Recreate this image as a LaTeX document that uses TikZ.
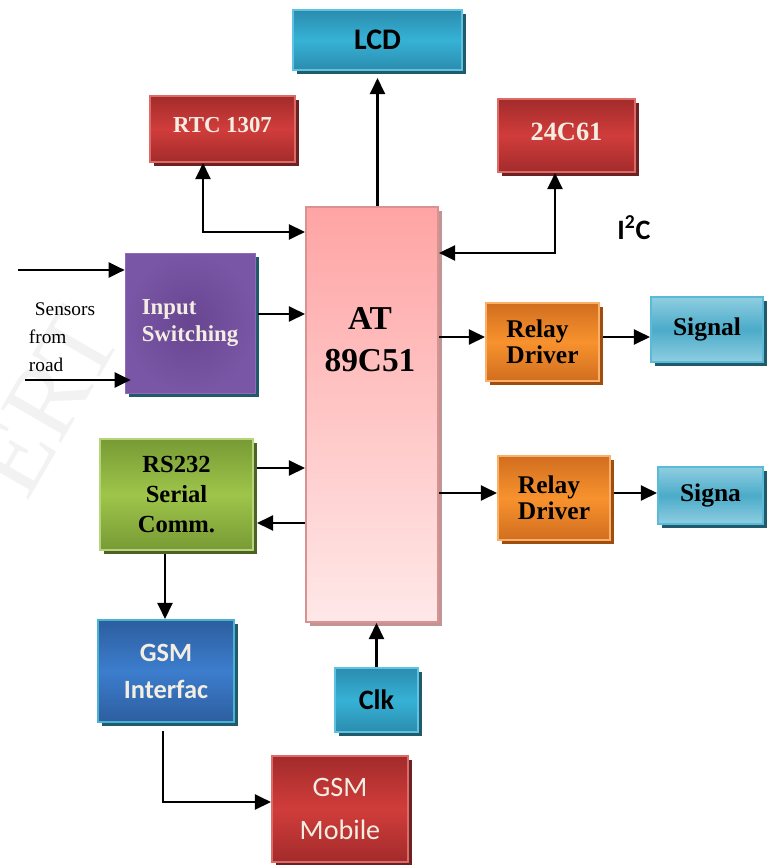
\documentclass[tikz,border=0pt]{standalone}
\usepackage{fontspec}
\setmainfont{Liberation Serif}
\newfontfamily\calibri{Carlito}
\usepackage{xcolor}
\usetikzlibrary{arrows.meta,shadows}
\definecolor{cream}{HTML}{F4EEE2}
\definecolor{cyanmid}{HTML}{36B2D6}
\definecolor{cyanedge}{HTML}{2B8CAE}
\definecolor{cyanborder}{HTML}{5CC4E2}
\definecolor{redmid}{HTML}{D03D3B}
\definecolor{rededge}{HTML}{A32B2B}
\definecolor{redborder}{HTML}{DD6A66}
\definecolor{greenmid}{HTML}{9EC54A}
\definecolor{greenedge}{HTML}{789A35}
\definecolor{greenborder}{HTML}{B5D57A}
\definecolor{bluemid}{HTML}{3C7DCD}
\definecolor{blueedge}{HTML}{2D5E9F}
\definecolor{blueborder}{HTML}{4AB2D4}
\definecolor{orangemid}{HTML}{F8922E}
\definecolor{orangeedge}{HTML}{D16E1F}
\definecolor{orangeborder}{HTML}{FBB06A}
\definecolor{sigmid}{HTML}{4BABC9}
\definecolor{sigedge}{HTML}{8FCEE1}
\definecolor{sigborder}{HTML}{5ABAD8}
\definecolor{purplemid}{HTML}{7A57A6}
\definecolor{purpleinner}{HTML}{674590}
\definecolor{purpleborder}{HTML}{8C6CB6}
\definecolor{pinktop}{HTML}{FFA4A4}
\definecolor{pinkbottom}{HTML}{FFE8E8}
\definecolor{pinkborder}{HTML}{D99292}
\definecolor{cyanshade}{HTML}{215A6A}
\definecolor{redshade}{HTML}{6B2222}
\definecolor{greenshade}{HTML}{4F6226}
\definecolor{orangeshade}{HTML}{A04E10}
\definecolor{pinkshade}{HTML}{C29494}
\tikzset{
  shade box/.style={drop shadow={shadow xshift=0.08cm,shadow yshift=-0.08cm,fill=#1,opacity=1}},
  cyanbox/.style={draw=cyanborder, line width=1.2pt, top color=cyanedge, bottom color=cyanedge, middle color=cyanmid, shade box=cyanshade},
  redbox/.style={draw=redborder, line width=1.2pt, top color=rededge, bottom color=rededge, middle color=redmid, shade box=redshade},
  sigbox/.style={draw=sigborder, line width=1.2pt, top color=sigedge, bottom color=sigedge, middle color=sigmid, shade box=cyanshade},
  orangebox/.style={draw=orangeborder, line width=1.2pt, top color=orangeedge, bottom color=orangeedge, middle color=orangemid, shade box=orangeshade},
  greenbox/.style={draw=greenborder, line width=1.2pt, top color=greenedge, bottom color=greenedge, middle color=greenmid, shade box=greenshade},
  bluebox/.style={draw=blueborder, line width=1.2pt, top color=blueedge, bottom color=blueedge, middle color=bluemid, shade box=cyanshade},
  lbl/.style={font=\bfseries, align=center},
  arr/.style={line width=1.3pt, -{Triangle[length=0.32cm,width=0.3cm]}},
  biarr/.style={line width=1.3pt, {Triangle[length=0.32cm,width=0.3cm]}-{Triangle[length=0.32cm,width=0.3cm]}}
}

\begin{document}
\begin{tikzpicture}[x=0.02cm,y=-0.02cm]
  \useasboundingbox (0,0) rectangle (772,865);
  % watermark
  \node[text=gray!10, rotate=60, font=\fontsize{60}{60}\selectfont] (wmark) at (46,402) {ERT};

  % top blocks
  \node[cyanbox, minimum width=3.38cm, minimum height=1.2cm, font=\calibri\bfseries\fontsize{17}{20}\selectfont] (lcd) at (377.5,40) {LCD};
  \node[redbox, minimum width=2.9cm, minimum height=1.32cm, text=cream, font=\bfseries\fontsize{13}{15}\selectfont] (rtc) at (222.5,129) {\raisebox{0.16cm}{RTC 1307}};
  \node[redbox, minimum width=2.74cm, minimum height=1.46cm, text=cream, font=\bfseries\fontsize{15}{17}\selectfont] (eeprom) at (566.5,135.5) {\raisebox{0.16cm}{24C61}};
  \node[font=\calibri\bfseries\fontsize{16}{18}\selectfont] (iic) at (634,228) {I\textsuperscript{2}C};

  % controller
  \node[draw=pinkborder, line width=1.2pt, top color=pinktop, bottom color=pinkbottom, minimum width=2.64cm, minimum height=8.3cm, shade box=pinkshade] (mcu) at (372,414.5) {};
  \node[lbl, font=\bfseries\fontsize{19}{24}\selectfont] (mcutext) at (370,340) {AT\\89C51};

  % inputs
  \node[draw=purpleborder, inner color=purpleinner, outer color=purplemid, minimum width=2.6cm, minimum height=2.8cm,
    text=cream, align=left, font=\bfseries\fontsize{13}{15}\selectfont, shade box=cyanshade] (inswitch) at (190,323) {Input\\Switching};
  \node[align=left, font=\fontsize{11}{16}\selectfont] (sensors) at (62,337) {\hspace{0.12cm}Sensors\\from\\road};
  \coordinate (sensA) at (18,270);
  \coordinate (sensB) at (25,380);
  \node[greenbox, minimum width=3.06cm, minimum height=2.22cm, lbl, font=\bfseries\fontsize{14}{17}\selectfont] (rs232) at (176.5,494.5) {RS232\\Serial\\Comm.};

  % GSM path
  \node[bluebox, minimum width=2.72cm, minimum height=2.04cm, text=cream, align=center, font=\calibri\bfseries\fontsize{15}{21}\selectfont] (gsmif) at (166,671) {GSM\\Interfac};
  \node[redbox, minimum width=2.72cm, minimum height=2.12cm, text=cream, align=center, font=\calibri\fontsize{16}{24}\selectfont] (gsmmob) at (340,809) {GSM\\Mobile};
  \node[cyanbox, minimum width=1.66cm, minimum height=1.28cm, font=\calibri\bfseries\fontsize{16}{18}\selectfont] (clk) at (376.5,700) {Clk};

  % outputs
  \node[orangebox, minimum width=2.26cm, minimum height=1.56cm, align=left, font=\bfseries\fontsize{14.5}{15}\selectfont] (relayA) at (542.5,342) {Relay\\Driver};
  \node[orangebox, minimum width=2.24cm, minimum height=1.68cm, align=left, font=\bfseries\fontsize{14.5}{15}\selectfont] (relayB) at (554,498) {Relay\\Driver};
  \node[sigbox, minimum width=2.24cm, minimum height=1.3cm, font=\bfseries\fontsize{14.5}{17}\selectfont] (sigA) at (707,329.5) {\raisebox{0.1cm}{Signal}};
  \node[sigbox, minimum width=2.1cm, minimum height=1.14cm, font=\bfseries\fontsize{14.5}{17}\selectfont] (sigB) at (710.5,495.5) {Signa};

  % connectors
  \draw[arr] (lcd.south |- mcu.north) -- ([yshift=-0.14cm]lcd.south);
  \draw[biarr] ([xshift=-0.39cm]rtc.south) |- ([yshift=-0.52cm]mcu.north west);
  \draw[biarr] ([xshift=-0.23cm]eeprom.south) |- ([yshift=-0.94cm]mcu.north east);
  \draw[arr] (sensA) -- (sensA -| inswitch.west);
  \draw[arr] (sensB) -- ([xshift=0.12cm]sensB -| inswitch.west);
  \coordinate (inA) at ([yshift=0.18cm]inswitch.east);
  \draw[arr] ([xshift=0.06cm]inA) -- (inA -| mcu.west);
  \coordinate (rsA) at ([yshift=0.53cm]rs232.east);
  \coordinate (rsB) at ([yshift=-0.57cm]rs232.east);
  \draw[arr] ([xshift=0.06cm]rsA) -- (rsA -| mcu.west);
  \draw[arr] (rsB -| mcu.west) -- ([xshift=0.06cm]rsB);
  \coordinate (rsC) at ([xshift=-0.23cm]rs232.south);
  \draw[arr] ([yshift=-0.06cm]rsC) -- (rsC |- gsmif.north);
  \draw[arr] ([xshift=-0.06cm,yshift=-0.16cm]gsmif.south) |- ([yshift=0.14cm]gsmmob.west);
  \draw[arr] (clk.north) -- (clk.north |- mcu.south);
  \coordinate (outA) at ([yshift=0.1cm]relayA.west);
  \draw[arr] (outA -| mcu.east) -- (outA);
  \draw[arr] ([xshift=0.06cm]outA -| relayA.east) -- (outA -| sigA.west);
  \coordinate (outB) at ([yshift=0.1cm]relayB.west);
  \draw[arr] (outB -| mcu.east) -- (outB);
  \draw[arr] ([xshift=0.06cm]outB -| relayB.east) -- (outB -| sigB.west);
\end{tikzpicture}
\end{document}
